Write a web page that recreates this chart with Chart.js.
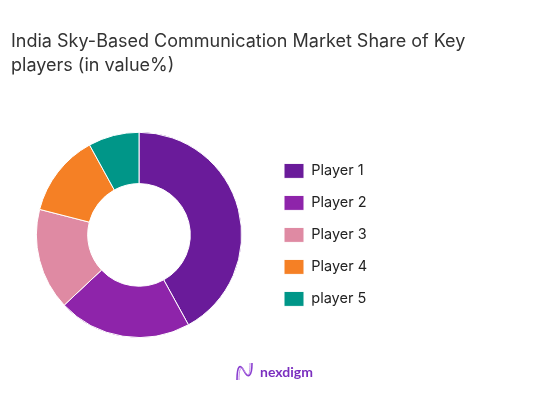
<!DOCTYPE html>
<html>
<head>
<meta charset="utf-8">
<script src="https://cdn.jsdelivr.net/npm/chart.js@4.4.1/dist/chart.umd.min.js"></script>
<style>
  html, body { margin:0; padding:0; background:#fff; }
  #wrap { position:relative; width:554px; height:413px; }
  #logo { position:absolute; left:235px; top:362px; display:flex; align-items:center; font-family:Lato, sans-serif; font-weight:700; font-size:14px; color:#7b2fbf; }
  #logo svg { margin-right:6px; }
</style>
</head>
<body>
<div id="wrap">
  <canvas id="shareChart"></canvas>
  <div id="logo">
    <svg width="19" height="19" viewBox="0 0 19 19"><path d="M2 18 C2 4, 5 1, 9 9 C13 17, 17 15, 17 1" fill="none" stroke="#8a3fd0" stroke-width="1.6"/><path d="M4 18 C4 6, 6 3, 10 10 C14 16, 15 12, 15 1" fill="none" stroke="#c08ae8" stroke-width="1"/></svg>
    <span>nexdigm</span>
  </div>
</div>
<script>
const titleLines = ['India Sky-Based Communication Market Share of Key', 'players (in value%)'];
const players = ['Player 1', 'Player 2', 'Player 3', 'Player 4', 'player 5'];
const shares = [42, 21, 16, 13, 8];
const sliceColors = ['#6a1b9a', '#8e24aa', '#df8aa3', '#f58025', '#009688'];

// widen the right legend box so the donut sits on the left third
const legendWidth = {
  id:'legendWidth',
  beforeInit(chart){
    const fit = chart.legend.fit;
    chart.legend.fit = function(){
      fit.call(this);
      this.width = 277;
    };
  }
};

function initChart(){
  const el = document.getElementById('shareChart');
  new Chart(el.getContext('2d'), {
    type:'doughnut',
    data:{ labels: players, datasets:[{ data: shares, backgroundColor: sliceColors, borderColor:'#ffffff', borderWidth:1 }] },
    options:{
      responsive:true,
      maintainAspectRatio:false,
      animation:false,
      cutout:'50%',
      layout:{ padding:{ left:11, right:10, top:0, bottom:75 } },
      plugins:{
        title:{ display:true, text: titleLines, align:'start', color:'#333333',
          font:{ family:'Inter', size:18, weight:'normal', lineHeight:1.3 },
          padding:{ top:30, bottom:55 } },
        legend:{ position:'right', align:'center', fullSize:false,
          labels:{ boxWidth:20, boxHeight:15, padding:17, color:'#222222',
            font:{ family:'Inter', size:14.5 } } },
        tooltip:{ enabled:false }
      }
    },
    plugins:[legendWidth]
  });
}

document.addEventListener('DOMContentLoaded', initChart);
</script>
</body>
</html>
